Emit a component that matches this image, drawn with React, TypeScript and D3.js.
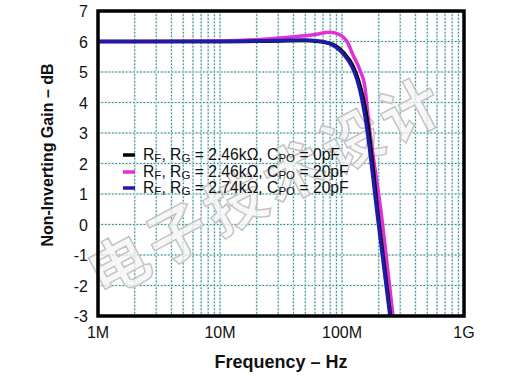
import React from "react";
import * as d3 from "d3";

const W = 516;
const H = 377;

const yTicks = [7, 6, 5, 4, 3, 2, 1, 0, -1, -2, -3];
const xTickValues = [1e6, 1e7, 1e8, 1e9];
const xTickLabels = ["1M", "10M", "100M", "1G"];

const freqBlack = [1e6, 1e7, 3e7, 5e7, 7e7, 8.5e7, 1.05e8, 1.23e8, 1.36e8, 1.5e8, 1.6e8, 2.0e8, 2.5e8];
const gainBlack = [6.0, 6.0, 6.02, 6.03, 5.98, 5.9, 5.6, 5.2, 4.75, 4.1, 3.5, 0.15, -3.0];

const freqMagenta = [1e6, 1e7, 2e7, 3.5e7, 5.8e7, 8e7, 9.6e7, 1.1e8, 1.23e8, 1.4e8, 1.54e8, 1.63e8, 2.13e8, 2.62e8];
const gainMagenta = [6.0, 6.02, 6.06, 6.13, 6.22, 6.3, 6.22, 6.0, 5.56, 5.07, 4.52, 3.6, 0.15, -3.0];

const freqBlue = [1e6, 1e7, 3e7, 5e7, 7e7, 8e7, 1.03e8, 1.21e8, 1.33e8, 1.46e8, 1.55e8, 1.97e8, 2.47e8];
const gainBlue = [6.0, 6.0, 6.03, 6.05, 6.0, 5.92, 5.58, 5.16, 4.74, 4.08, 3.5, 0.15, -3.0];

const seriesColors = ["#000000", "#e030d8", "#1c1ca8"];
const legendValues = [
  { rg: "2.46kΩ", cpo: "0pF" },
  { rg: "2.46kΩ", cpo: "20pF" },
  { rg: "2.74kΩ", cpo: "20pF" },
];

const watermark = "电子技术设计";

export default function App() {
  const left = 98, right = 464, top = 11, bottom = 316;
  const x = d3.scaleLog().domain([1e6, 1e9]).range([left, right]);
  const y = d3.scaleLinear().domain([-3, 7]).range([bottom, top]);

  const minorX: number[] = [];
  for (let dec = 6; dec < 9; dec++) {
    for (let m = 2; m <= 9; m++) minorX.push(m * Math.pow(10, dec));
  }

  const line = d3
    .line<[number, number]>()
    .x((d) => x(d[0]))
    .y((d) => y(d[1]))
    .curve(d3.curveMonotoneX);

  const series = [
    { f: freqMagenta, g: gainMagenta, c: seriesColors[1] },
    { f: freqBlack, g: gainBlack, c: seriesColors[0] },
    { f: freqBlue, g: gainBlue, c: seriesColors[2] },
  ];

  const font = "'Liberation Sans', Arial, sans-serif";
  const gridLight = "#d6eeee";
  const gridDark = "#3f7f80";

  return (
    <svg
      width={W}
      height={H}
      style={{ position: "absolute", left: 0, top: 0, background: "#fff" }}
      fontFamily={font}
    >
      <defs>
        <clipPath id="plotclip">
          <rect x={left} y={top} width={right - left} height={bottom - top} />
        </clipPath>
      </defs>
      <rect x={0} y={0} width={W} height={H} fill="#fff" />
      {/* grid */}
      <g>
        {minorX.concat([1e7, 1e8]).map((v, i) => (
          <g key={"vx" + i}>
            <line x1={x(v)} x2={x(v)} y1={top} y2={bottom} stroke={gridLight} strokeWidth={2} />
            <line x1={x(v)} x2={x(v)} y1={top} y2={bottom} stroke={gridDark} strokeWidth={1} strokeDasharray="1.5,2" />
          </g>
        ))}
        {yTicks.slice(1, -1).map((v, i) => (
          <g key={"hy" + i}>
            <line x1={left} x2={right} y1={y(v)} y2={y(v)} stroke={gridLight} strokeWidth={2} />
            <line x1={left} x2={right} y1={y(v)} y2={y(v)} stroke={gridDark} strokeWidth={1} strokeDasharray="1.5,2" />
          </g>
        ))}
      </g>
      {/* watermark */}
      <text
        x={268}
        y={208}
        transform="rotate(-28 268 188)"
        textAnchor="middle"
        fontFamily="'Noto Sans CJK SC', sans-serif"
        fontWeight={700}
        fontSize={60}
        letterSpacing={6}
        fill="#f4f4f4"
        fillOpacity={0.75}
        stroke="#c4c4c4"
        strokeWidth={1.5}
      >
        {watermark}
      </text>
      {/* legend */}
      {legendValues.map((lv, i) => {
        const base = [160, 177, 193][i];
        return (
          <g key={"lg" + i}>
            <line x1={123} x2={135} y1={base - 5} y2={base - 5} stroke={seriesColors[i]} strokeWidth={3.5} />
            <text x={143} y={base} fontSize={15.7} fill="#111">
              R<tspan fontSize={11.5} dy={2}>F</tspan>
              <tspan dy={-2}>, R</tspan>
              <tspan fontSize={11.5} dy={2}>G</tspan>
              <tspan dy={-2}>{" = " + lv.rg + ", C"}</tspan>
              <tspan fontSize={11.5} dy={2}>PO</tspan>
              <tspan dy={-2}>{" = " + lv.cpo}</tspan>
            </text>
          </g>
        );
      })}
      {/* curves */}
      <g clipPath="url(#plotclip)">
        {series.map((s, i) => (
          <path
            key={"s" + i}
            d={line(s.f.map((f, j) => [f, s.g[j]] as [number, number])) || ""}
            fill="none"
            stroke={s.c}
            strokeWidth={3.5}
            strokeLinejoin="round"
          />
        ))}
      </g>
      {/* border */}
      <rect x={left} y={top} width={right - left} height={bottom - top} fill="none" stroke="#000" strokeWidth={3.5} />
      {/* y tick labels */}
      {yTicks.map((v) => (
        <text key={"yt" + v} x={88} y={y(v) + 6} textAnchor="end" fontSize={16} fill="#111">
          {v}
        </text>
      ))}
      {/* x tick labels */}
      {xTickValues.map((v, i) => (
        <text key={"xt" + i} x={x(v)} y={338} textAnchor="middle" fontSize={16} fill="#111">
          {xTickLabels[i]}
        </text>
      ))}
      {/* axis titles */}
      <text x={281} y={368} textAnchor="middle" fontSize={18} fontWeight={700} fill="#111">
        Frequency – Hz
      </text>
      <text
        transform="translate(53,155) rotate(-90)"
        textAnchor="middle"
        fontSize={16}
        fontWeight={700}
        fill="#111"
      >
        Non-Inverting Gain – dB
      </text>
    </svg>
  );
}
